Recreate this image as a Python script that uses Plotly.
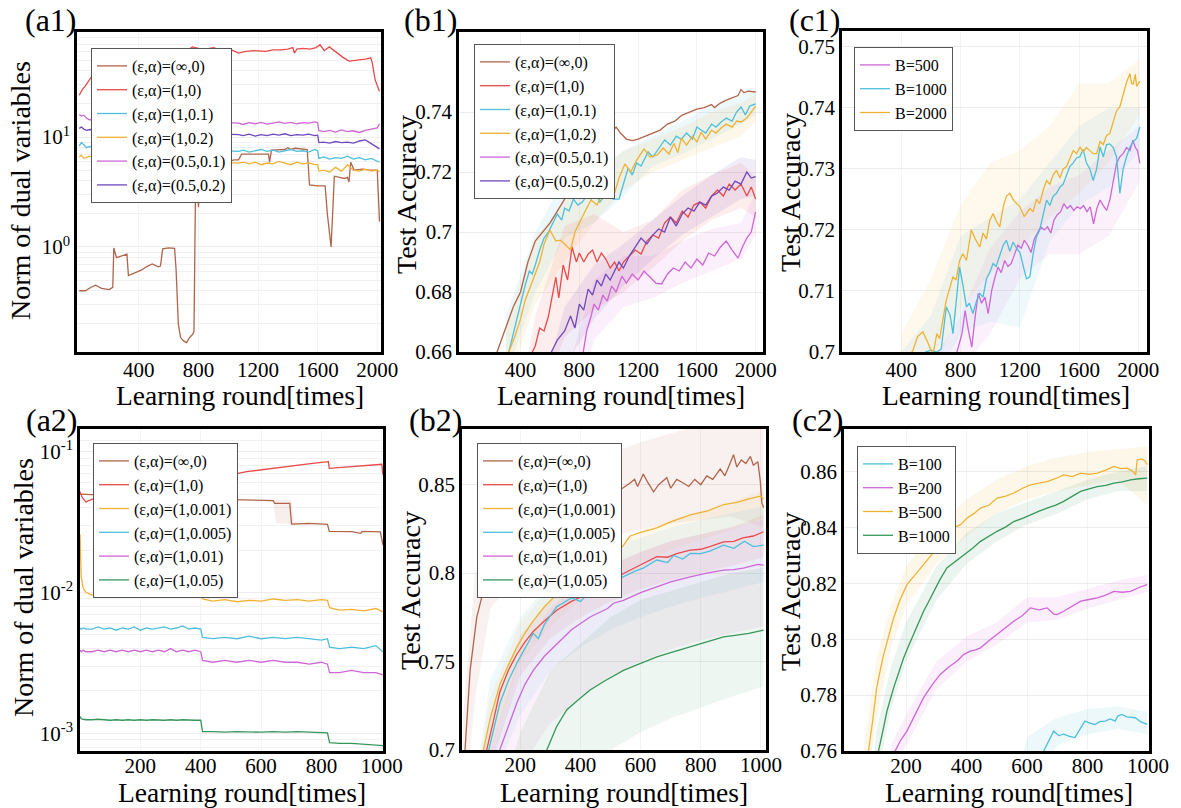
import plotly.graph_objects as go

W, H = 1181, 808
FONT = "Liberation Serif"

# ---------------- colours ----------------
BROWN = "#b0654b"
RED = "#e84a4a"
CYAN = "#4dbfdc"
ORANGE = "#f0b232"
MAGENTA = "#cf66d6"
PURPLE = "#7047bf"
GREEN = "#37975a"

# ---------------- (a1) ----------------
A1_BRO_X = [0, 40, 80, 110, 150, 200, 225, 232, 250, 290, 320, 330, 370, 420, 450, 490, 530, 545, 560, 600,
            640, 650, 665, 680, 700, 720, 740, 760, 770, 780, 795, 800, 810, 900, 1000, 1040, 1069, 1090, 1200, 1270,
            1277, 1290, 1380, 1400, 1420, 1450, 1530, 1545, 1600, 1650, 1665, 1690, 1712, 1780, 1800, 1810, 1822, 1844, 1900, 1950,
            2000, 2015]
A1_BRO_Y = [0.40, 0.40, 0.43, 0.45, 0.42, 0.41, 0.43, 0.98, 0.80, 0.84, 0.86, 0.55, 0.58, 0.62, 0.66, 0.70, 0.66, 0.67, 0.96, 0.98,
            0.97, 0.62, 0.20, 0.15, 0.14, 0.135, 0.15, 0.16, 0.17, 3.1, 3.4, 2.3, 4.5, 5.5, 6.0, 6.2, 6.2, 7.0, 7.0, 7.0,
            5.9, 7.6, 7.7, 8.0, 7.7, 7.9, 7.7, 3.66, 3.6, 3.6, 2.0, 1.0, 4.4, 4.2, 4.3, 3.9, 5.9, 5.0, 5.1, 5.0,
            5.0, 1.7]
A1_RED_X = [0, 20, 40, 60, 80, 100, 200, 400, 600, 730, 760, 800, 850, 900, 950, 1000, 1040, 1069, 1120, 1173,
            1250, 1300, 1350, 1400, 1433, 1444, 1460, 1500, 1550, 1589, 1616, 1644, 1678, 1722, 1770, 1811, 1878, 1920, 1956, 1967,
            1986, 2015]
A1_RED_Y = [24, 27, 29, 32, 35, 36, 40, 48, 55, 62, 66, 64, 63, 65, 62, 64, 60, 58, 60, 61,
            60, 62, 62, 63, 65, 58, 63, 64, 63, 65, 69, 61, 66, 59, 53, 49, 50, 51, 52.5, 47,
            33, 26]
A1_STEP_X = [0, 15, 30, 50, 70, 90, 400, 800, 1069, 1100, 1140, 1180, 1220, 1260, 1300, 1340, 1380, 1420, 1460, 1500,
             1540, 1580, 1600, 1608, 1640, 1680, 1720, 1760, 1800, 1840, 1880, 1920, 1960, 2000, 2015]
A1_MAG_Y = [16, 15.5, 15.8, 14.8, 14.3, 14.6, 14.2, 13.9, 13.4, 13.0, 13.5, 13.2, 13.6, 13.1, 13.4, 13.7, 13.3, 13.6, 13.2, 13.5,
            13.4, 13.7, 13.5, 11.4, 11.2, 11.5, 11.1, 11.6, 11.2, 11.4, 11.0, 11.5, 11.8, 12.1, 13.2]
A1_PUR_Y = [12.0, 12.3, 11.8, 11.5, 11.7, 11.6, 11.2, 10.9, 10.5, 10.3, 10.6, 10.2, 10.5, 10.3, 10.6, 10.4, 10.7, 10.3, 10.5, 10.4,
            10.6, 10.3, 10.4, 8.9, 9.0, 8.8, 9.1, 8.9, 9.0, 8.8, 9.2, 9.4, 8.7, 8.0, 7.8]
A1_CYA_Y = [8.3, 8.9, 8.5, 8.0, 8.2, 8.1, 7.9, 7.7, 7.4, 7.6, 7.3, 7.5, 7.7, 7.4, 7.6, 7.3, 7.5, 7.7, 7.4, 7.5,
            7.3, 7.7, 7.5, 6.4, 6.6, 6.3, 6.5, 6.4, 6.7, 6.3, 6.5, 6.2, 6.4, 6.0, 5.9]
A1_ORA_Y = [6.6, 6.8, 6.4, 6.5, 6.7, 6.6, 6.3, 6.0, 5.8, 5.9, 5.7, 5.9, 5.6, 5.8, 5.7, 6.0, 5.8, 5.6, 5.9, 5.7,
            5.8, 5.6, 5.6, 4.9, 5.0, 4.8, 5.3, 4.9, 5.6, 5.0, 4.9, 5.1, 4.9, 5.0, 4.8]

# ---------------- (b1) ----------------
B1_BRO_X = [0, 100, 200, 240, 300, 350, 400, 450, 500, 550, 600, 650, 700, 750, 800, 850, 900, 950, 1000, 1050,
            1080, 1120, 1160, 1200, 1250, 1300, 1350, 1400, 1450, 1500, 1550, 1600, 1650, 1700, 1720, 1760, 1800, 1850, 1880, 1900,
            1920, 1950, 2000]
B1_BRO_Y = [0.60, 0.625, 0.648, 0.66, 0.668, 0.675, 0.680, 0.690, 0.697, 0.700, 0.703, 0.707, 0.711, 0.715, 0.719, 0.723, 0.727, 0.730, 0.732, 0.735,
            0.733, 0.731, 0.7305, 0.731, 0.732, 0.733, 0.734, 0.736, 0.737, 0.739, 0.740, 0.741, 0.7415, 0.7425, 0.7415, 0.743, 0.744, 0.745, 0.7455, 0.7475,
            0.7465, 0.747, 0.7467]
B1_CYA_X = [280, 320, 350, 380, 400, 430, 460, 480, 500, 530, 560, 590, 620, 650, 680, 700, 730, 760, 790, 820,
            850, 880, 910, 940, 970, 1000, 1030, 1070, 1100, 1132, 1160, 1190, 1220, 1268, 1300, 1340, 1381, 1420, 1460, 1494,
            1530, 1570, 1600, 1629, 1660, 1700, 1730, 1765, 1800, 1840, 1870, 1901, 1930, 1960, 2000]
B1_CYA_Y = [0.652, 0.660, 0.667, 0.672, 0.677, 0.682, 0.687, 0.686, 0.689, 0.694, 0.698, 0.700, 0.703, 0.706, 0.704, 0.708, 0.707, 0.711, 0.709, 0.710,
            0.712, 0.711, 0.713, 0.710, 0.712, 0.713, 0.711, 0.711, 0.716, 0.7213, 0.719, 0.723, 0.722, 0.7267, 0.725, 0.728, 0.7307, 0.729, 0.732, 0.731,
            0.733, 0.731, 0.735, 0.734, 0.733, 0.736, 0.735, 0.7367, 0.738, 0.737, 0.740, 0.7417, 0.739, 0.742, 0.7427]
B1_ORA_X = [270, 320, 360, 398, 430, 460, 500, 530, 560, 600, 640, 670, 700, 740, 770, 810, 840, 880, 920, 960,
            1000, 1040, 1070, 1110, 1150, 1190, 1241, 1280, 1331, 1370, 1410, 1444, 1470, 1494, 1530, 1570, 1600, 1629, 1660, 1700,
            1730, 1765, 1800, 1840, 1870, 1901, 1940, 1970, 2000]
B1_ORA_Y = [0.652, 0.660, 0.665, 0.6707, 0.677, 0.681, 0.6862, 0.690, 0.696, 0.7007, 0.697, 0.6973, 0.696, 0.694, 0.700, 0.7043, 0.707, 0.7107, 0.709, 0.713,
            0.7153, 0.713, 0.718, 0.7227, 0.720, 0.724, 0.7277, 0.725, 0.7257, 0.728, 0.726, 0.7295, 0.7265, 0.7313, 0.729, 0.732, 0.730, 0.7333, 0.731, 0.734,
            0.733, 0.7347, 0.736, 0.735, 0.737, 0.7367, 0.738, 0.740, 0.742]
B1_RED_X = [430, 477, 500, 530, 560, 590, 620, 640, 660, 690, 720, 750, 780, 800, 830, 861, 890, 920, 950, 980,
            1010, 1040, 1070, 1100, 1140, 1180, 1220, 1260, 1300, 1340, 1380, 1420, 1460, 1500, 1540, 1580, 1620, 1660, 1700, 1740,
            1780, 1820, 1860, 1900, 1940, 1970, 2000]
B1_RED_Y = [0.655, 0.660, 0.662, 0.668, 0.667, 0.672, 0.680, 0.685, 0.678, 0.689, 0.684, 0.695, 0.690, 0.693, 0.690, 0.6927, 0.694, 0.690, 0.693, 0.691,
            0.688, 0.690, 0.687, 0.690, 0.692, 0.694, 0.6927, 0.697, 0.699, 0.698, 0.703, 0.705, 0.703, 0.707, 0.705, 0.709, 0.710, 0.708, 0.712, 0.714,
            0.712, 0.716, 0.714, 0.716, 0.712, 0.715, 0.711]
B1_PUR_X = [560, 612, 650, 700, 740, 770, 800, 830, 860, 890, 920, 950, 980, 1010, 1040, 1070, 1100, 1140, 1180, 1220,
            1260, 1300, 1340, 1380, 1420, 1460, 1500, 1540, 1580, 1620, 1660, 1700, 1740, 1780, 1820, 1860, 1900, 1940, 1970, 2000]
B1_PUR_Y = [0.655, 0.660, 0.664, 0.667, 0.672, 0.668, 0.676, 0.674, 0.681, 0.679, 0.684, 0.682, 0.686, 0.684, 0.687, 0.690, 0.688, 0.692, 0.695, 0.698,
            0.696, 0.699, 0.701, 0.700, 0.705, 0.702, 0.706, 0.708, 0.707, 0.710, 0.709, 0.712, 0.713, 0.715, 0.714, 0.717, 0.716, 0.720, 0.718, 0.7185]
B1_MAG_X = [800, 827, 850, 880, 900, 930, 960, 990, 1020, 1050, 1090, 1120, 1160, 1200, 1240, 1280, 1320, 1360, 1400, 1440,
            1480, 1520, 1560, 1600, 1640, 1680, 1720, 1760, 1800, 1840, 1880, 1910, 1940, 1970, 2000]
B1_MAG_Y = [0.652, 0.660, 0.667, 0.672, 0.676, 0.674, 0.679, 0.677, 0.682, 0.680, 0.6853, 0.683, 0.686, 0.684, 0.687, 0.685, 0.683, 0.6827, 0.686, 0.688,
            0.687, 0.690, 0.688, 0.691, 0.689, 0.693, 0.692, 0.695, 0.697, 0.694, 0.6913, 0.695, 0.698, 0.700, 0.7067]
B1_BAND_X = [300, 500, 700, 900, 1100, 1300, 1500, 1700, 1900, 2000]
B1_CYA_LO = [0.652, 0.680, 0.698, 0.703, 0.712, 0.722, 0.726, 0.731, 0.736, 0.739]
B1_CYA_HI = [0.672, 0.700, 0.718, 0.720, 0.727, 0.732, 0.737, 0.742, 0.746, 0.747]
B1_ORA_LO = [0.648, 0.676, 0.690, 0.703, 0.714, 0.720, 0.724, 0.728, 0.732, 0.737]
B1_ORA_HI = [0.668, 0.698, 0.710, 0.718, 0.727, 0.731, 0.735, 0.740, 0.743, 0.746]
B1_RED_LO = [0.600, 0.640, 0.665, 0.674, 0.680, 0.688, 0.697, 0.704, 0.708, 0.705]
B1_RED_HI = [0.620, 0.672, 0.702, 0.706, 0.700, 0.704, 0.714, 0.719, 0.723, 0.718]
B1_PUR_LO = [0.580, 0.620, 0.655, 0.671, 0.682, 0.691, 0.699, 0.705, 0.711, 0.712]
B1_PUR_HI = [0.600, 0.640, 0.675, 0.689, 0.696, 0.704, 0.712, 0.719, 0.725, 0.724]
B1_MAG_LO = [0.560, 0.600, 0.630, 0.664, 0.675, 0.678, 0.683, 0.687, 0.691, 0.699]
B1_MAG_HI = [0.580, 0.620, 0.650, 0.684, 0.692, 0.692, 0.697, 0.701, 0.703, 0.713]

# ---------------- (c1) ----------------
C1_ORA_X = [400, 479, 510, 546, 580, 614, 640, 659, 704, 730, 749, 770, 794, 816, 840, 873, 900, 930, 952, 975,
            997, 1020, 1040, 1065, 1090, 1110, 1133, 1160, 1201, 1230, 1245, 1268, 1290, 1313, 1335, 1358, 1381, 1403, 1425, 1448,
            1471, 1493, 1516, 1538, 1561, 1584, 1606, 1628, 1650, 1673, 1696, 1719, 1742, 1764, 1786, 1808, 1831, 1853, 1876, 1898,
            1921, 1944, 1955, 1966, 1980, 1989, 2011]
C1_ORA_Y = [0.697, 0.7003, 0.7025, 0.7033, 0.7015, 0.6995, 0.703, 0.7022, 0.7085, 0.7105, 0.7123, 0.7118, 0.7150, 0.7161, 0.7150, 0.720, 0.7185, 0.7172, 0.7195, 0.7185,
            0.7215, 0.7227, 0.7215, 0.7205, 0.7240, 0.7255, 0.726, 0.7248, 0.7238, 0.7222, 0.7228, 0.7235, 0.7230, 0.7250, 0.7243, 0.7265, 0.7281, 0.7275, 0.729, 0.7298,
            0.7285, 0.7300, 0.7304, 0.7318, 0.7330, 0.7325, 0.7336, 0.7328, 0.7335, 0.7330, 0.7325, 0.7325, 0.7345, 0.7340, 0.7355, 0.7358, 0.7375, 0.7395, 0.7402, 0.7420,
            0.7442, 0.7456, 0.7440, 0.7439, 0.7455, 0.7435, 0.7444]
C1_CYA_X = [520, 564, 600, 640, 670, 704, 730, 749, 770, 794, 816, 840, 860, 884, 910, 930, 952, 975, 997, 1020,
            1040, 1065, 1088, 1110, 1133, 1155, 1178, 1201, 1223, 1245, 1268, 1290, 1313, 1335, 1358, 1381, 1403, 1425, 1448, 1471,
            1493, 1516, 1538, 1561, 1584, 1606, 1628, 1650, 1673, 1696, 1719, 1742, 1764, 1786, 1808, 1831, 1853, 1876, 1898, 1921,
            1944, 1966, 1989, 2011]
C1_CYA_Y = [0.697, 0.700, 0.7003, 0.700, 0.7005, 0.7074, 0.706, 0.703, 0.708, 0.7139, 0.7110, 0.7074, 0.7080, 0.7063, 0.7085, 0.7096, 0.7090, 0.7120, 0.7130, 0.7145,
            0.7140, 0.7160, 0.7175, 0.7183, 0.7165, 0.7180, 0.7170, 0.7163, 0.7140, 0.7120, 0.7123, 0.7160, 0.7189, 0.7200, 0.7225, 0.7249, 0.7240, 0.7255, 0.7260, 0.7270,
            0.7275, 0.7290, 0.7304, 0.7310, 0.7318, 0.7320, 0.7332, 0.7310, 0.7300, 0.7281, 0.7300, 0.7336, 0.7320, 0.7340, 0.7341, 0.7335, 0.7320, 0.7260, 0.7300, 0.7320,
            0.7336, 0.7345, 0.7350, 0.7369]
C1_MAG_X = [760, 776, 810, 831, 850, 876, 900, 920, 942, 965, 987, 1010, 1030, 1053, 1075, 1098, 1120, 1142, 1165, 1187,
            1210, 1231, 1254, 1276, 1298, 1320, 1342, 1365, 1387, 1410, 1431, 1453, 1476, 1498, 1520, 1542, 1565, 1587, 1609, 1631,
            1654, 1676, 1698, 1720, 1742, 1764, 1787, 1809, 1831, 1853, 1876, 1898, 1921, 1944, 1964, 1980, 1995, 2011]
C1_MAG_Y = [0.697, 0.700, 0.7030, 0.7068, 0.7040, 0.7008, 0.7060, 0.7096, 0.7080, 0.7090, 0.7063, 0.7100, 0.7120, 0.7139, 0.7130, 0.7150, 0.7140, 0.7145, 0.7160, 0.7175,
            0.7170, 0.7183, 0.7175, 0.7163, 0.7185, 0.7195, 0.7205, 0.7200, 0.7205, 0.7195, 0.7216, 0.7225, 0.7230, 0.7243, 0.7235, 0.7240, 0.7232, 0.7238, 0.7235, 0.7240,
            0.7230, 0.7238, 0.7210, 0.7235, 0.7249, 0.7240, 0.7232, 0.7250, 0.7280, 0.7309, 0.7320, 0.7325, 0.7335, 0.7330, 0.7347, 0.7335, 0.7330, 0.7309]
C1_BAND_X = [400, 600, 800, 1000, 1200, 1400, 1600, 1800, 2011]
C1_ORA_LO = [0.694, 0.696, 0.707, 0.713, 0.717, 0.722, 0.726, 0.731, 0.739]
C1_ORA_HI = [0.703, 0.712, 0.724, 0.731, 0.733, 0.737, 0.744, 0.744, 0.748]
C1_CYA_LO = [0.690, 0.694, 0.703, 0.705, 0.704, 0.718, 0.724, 0.727, 0.733]
C1_CYA_HI = [0.700, 0.706, 0.719, 0.722, 0.725, 0.731, 0.737, 0.740, 0.740]
C1_MAG_LO = [0.690, 0.690, 0.697, 0.703, 0.712, 0.716, 0.716, 0.719, 0.728]
C1_MAG_HI = [0.695, 0.698, 0.706, 0.717, 0.723, 0.727, 0.729, 0.733, 0.737]

# ---------------- (a2) ----------------
A2_RED_X = [0, 8, 20, 40, 60, 80, 110, 200, 300, 402, 405, 552, 600, 650, 700, 750, 800, 823, 826, 880, 940, 1000, 1004]
A2_RED_Y = [0.052, 0.047, 0.044, 0.046, 0.045, 0.047, 0.049, 0.053, 0.058, 0.066, 0.062, 0.0721, 0.0745, 0.077, 0.079, 0.0815,
            0.084, 0.0849, 0.0762, 0.0775, 0.079, 0.0814, 0.068]
A2_BRO_X = [0, 100, 300, 402, 405, 552, 600, 640, 645, 695, 701, 760, 820, 826, 900, 930, 935, 995, 1004]
A2_BRO_Y = [0.050, 0.049, 0.048, 0.047, 0.046, 0.0454, 0.0452, 0.045, 0.043, 0.043, 0.0306, 0.031, 0.0305, 0.0272, 0.0271,
            0.0263, 0.0272, 0.027, 0.0218]
A2_STEP_X = [0, 4, 10, 20, 40, 60, 80, 100, 120, 140, 160, 180, 200, 220, 240, 260, 280, 300, 320, 340,
             360, 380, 400, 406, 440, 480, 520, 560, 600, 640, 680, 720, 760, 800, 820, 827, 860, 900, 940, 980, 1004]
A2_ORA_Y = [0.026, 0.013, 0.0108, 0.0100, 0.0096, 0.0098, 0.0094, 0.0099, 0.0101, 0.0097, 0.0100, 0.0098, 0.0102, 0.0096, 0.0093, 0.0100, 0.0098, 0.0101, 0.0097, 0.0100,
            0.0099, 0.0096, 0.0098, 0.0090, 0.0087, 0.0089, 0.0086, 0.0088, 0.0087, 0.0090, 0.0088, 0.0089, 0.0087, 0.0089, 0.0088, 0.0078, 0.0075, 0.0076, 0.0074, 0.0077, 0.0073]
A2_CYA_Y = [0.0056, 0.0055, 0.0056, 0.0055, 0.0055, 0.0057, 0.0055, 0.0056, 0.0054, 0.0056, 0.0055, 0.0057, 0.0054, 0.0056, 0.0055, 0.0056, 0.0057, 0.0055, 0.0056, 0.0058,
            0.0055, 0.0056, 0.0055, 0.0048, 0.0047, 0.0048, 0.0047, 0.0049, 0.0047, 0.0048, 0.0047, 0.0048, 0.0047, 0.0046, 0.0047, 0.0041, 0.0040, 0.0041, 0.0040, 0.0042, 0.0038]
A2_MAG_Y = [0.0039, 0.0038, 0.0039, 0.0038, 0.0038, 0.0039, 0.0038, 0.0039, 0.0038, 0.0039, 0.0038, 0.0039, 0.0038, 0.0039, 0.0038, 0.0039, 0.0038, 0.0040, 0.0038, 0.0039,
            0.0038, 0.0039, 0.0038, 0.0033, 0.0032, 0.0033, 0.0032, 0.0033, 0.0032, 0.0033, 0.0032, 0.0032, 0.0031, 0.0032, 0.0031, 0.0027, 0.0027, 0.0028, 0.0027, 0.0027, 0.0026]
A2_GRN_Y = [0.00132, 0.00127, 0.00126, 0.00125, 0.00125, 0.00126, 0.00125, 0.00124, 0.00125, 0.00124, 0.00125, 0.00124, 0.00125, 0.00124, 0.00125, 0.00124, 0.00124, 0.00125, 0.00124, 0.00125,
            0.00124, 0.00124, 0.00124, 0.00103, 0.00103, 0.00102, 0.00103, 0.00102, 0.00102, 0.00103, 0.00102, 0.00103, 0.00102, 0.00102, 0.00101, 0.00086, 0.00085, 0.00085, 0.00084, 0.00083, 0.00082]
A2_BAND_X = [600, 640, 650, 700, 710, 760]
A2_BRO_LO = [0.0448, 0.0440, 0.0310, 0.0305, 0.0300, 0.0302]
A2_BRO_HI = [0.0458, 0.0458, 0.0456, 0.0452, 0.0318, 0.0312]

# ---------------- (b2) ----------------
B2_BRO_X = [1, 10, 16, 33, 55, 77, 100, 150, 200, 250, 300, 350, 400, 450, 500, 540, 565, 580, 590, 609,
            625, 643, 660, 687, 700, 720, 742, 760, 780, 800, 820, 840, 865, 880, 895, 909, 920, 935, 950, 965,
            975, 990, 998, 1003, 1009]
B2_BRO_Y = [0.64, 0.68, 0.70, 0.745, 0.775, 0.790, 0.80, 0.813, 0.822, 0.828, 0.833, 0.837, 0.840, 0.843, 0.846, 0.848, 0.851, 0.853, 0.849, 0.856,
            0.851, 0.846, 0.850, 0.854, 0.848, 0.853, 0.851, 0.849, 0.853, 0.850, 0.855, 0.853, 0.859, 0.855, 0.861, 0.867, 0.860, 0.864, 0.862, 0.866,
            0.861, 0.863, 0.852, 0.840, 0.837]
B2_ORA_X = [60, 77, 100, 132, 160, 188, 215, 243, 280, 321, 360, 400, 450, 500, 540, 565, 600, 654, 700, 765, 820, 876, 920, 960, 998, 1009]
B2_ORA_Y = [0.68, 0.70, 0.718, 0.737, 0.748, 0.758, 0.766, 0.773, 0.781, 0.788, 0.794, 0.80, 0.806, 0.811, 0.815, 0.821, 0.823, 0.8256, 0.829, 0.833,
            0.835, 0.8388, 0.840, 0.842, 0.8435, 0.842]
B2_RED_X = [70, 88, 110, 132, 160, 188, 215, 243, 280, 321, 370, 432, 480, 543, 580, 620, 654, 690, 720, 765, 800, 830, 876, 910, 940, 975, 1009]
B2_RED_Y = [0.68, 0.70, 0.716, 0.733, 0.745, 0.754, 0.761, 0.767, 0.773, 0.779, 0.784, 0.789, 0.793, 0.7998, 0.803, 0.806, 0.8093, 0.809, 0.811, 0.813,
            0.8135, 0.815, 0.8177, 0.818, 0.820, 0.821, 0.8234]
B2_CYA_X = [75, 95, 132, 160, 188, 215, 243, 260, 280, 321, 370, 400, 432, 480, 520, 543, 580, 610, 654, 690, 710, 740, 765, 800, 830, 876, 910, 945, 975, 1009]
B2_CYA_Y = [0.68, 0.70, 0.7264, 0.739, 0.749, 0.757, 0.766, 0.763, 0.771, 0.781, 0.786, 0.784, 0.7894, 0.792, 0.796, 0.798, 0.801, 0.803, 0.8074, 0.806,
            0.810, 0.808, 0.8111, 0.811, 0.8125, 0.8158, 0.814, 0.818, 0.815, 0.8158]
B2_MAG_X = [110, 132, 188, 215, 243, 280, 321, 370, 432, 490, 510, 543, 600, 654, 700, 765, 820, 876, 910, 945, 975, 990, 1009]
B2_MAG_Y = [0.69, 0.70, 0.7264, 0.737, 0.745, 0.753, 0.7601, 0.768, 0.7752, 0.780, 0.783, 0.7846, 0.789, 0.7922, 0.795, 0.7979, 0.800, 0.8017, 0.802, 0.803,
            0.8045, 0.805, 0.8045]
B2_GRN_X = [250, 288, 320, 354, 390, 432, 480, 543, 600, 654, 700, 765, 820, 876, 920, 960, 1009]
B2_GRN_Y = [0.69, 0.70, 0.713, 0.7226, 0.728, 0.7339, 0.739, 0.745, 0.749, 0.7527, 0.755, 0.7584, 0.761, 0.764, 0.765, 0.766, 0.7678]
B2_BAND_X = [10, 50, 100, 200, 300, 400, 500, 600, 700, 800, 900, 1009]
B2_BRO_LO = [0.660, 0.730, 0.780, 0.800, 0.810, 0.815, 0.820, 0.825, 0.828, 0.830, 0.832, 0.826]
B2_BRO_HI = [0.720, 0.800, 0.820, 0.842, 0.852, 0.860, 0.868, 0.874, 0.879, 0.884, 0.889, 0.890]
B2_RED_LO = [0.600, 0.640, 0.690, 0.742, 0.763, 0.775, 0.784, 0.791, 0.796, 0.800, 0.804, 0.809]
B2_RED_HI = [0.620, 0.670, 0.720, 0.765, 0.785, 0.796, 0.804, 0.812, 0.818, 0.822, 0.826, 0.833]
B2_ORA_LO = [0.600, 0.650, 0.700, 0.750, 0.770, 0.785, 0.796, 0.806, 0.813, 0.819, 0.824, 0.831]
B2_ORA_HI = [0.630, 0.680, 0.730, 0.772, 0.792, 0.806, 0.816, 0.824, 0.830, 0.835, 0.840, 0.847]
B2_CYA_LO = [0.600, 0.630, 0.680, 0.720, 0.745, 0.758, 0.768, 0.775, 0.781, 0.786, 0.790, 0.795]
B2_CYA_HI = [0.630, 0.680, 0.740, 0.775, 0.795, 0.806, 0.814, 0.820, 0.826, 0.830, 0.834, 0.838]
B2_MAG_LO = [0.550, 0.600, 0.640, 0.690, 0.715, 0.730, 0.742, 0.750, 0.757, 0.762, 0.766, 0.770]
B2_MAG_HI = [0.600, 0.650, 0.700, 0.755, 0.780, 0.795, 0.805, 0.812, 0.818, 0.822, 0.826, 0.830]
B2_GRN_LO = [0.500, 0.550, 0.600, 0.650, 0.675, 0.690, 0.700, 0.710, 0.718, 0.724, 0.730, 0.736]
B2_GRN_HI = [0.550, 0.600, 0.650, 0.710, 0.745, 0.760, 0.775, 0.785, 0.790, 0.795, 0.800, 0.803]

# ---------------- (c2) ----------------
C2_ORA_X = [60, 76, 90, 103, 115, 126, 140, 159, 180, 203, 230, 258, 285, 313, 335, 357, 380, 402, 425, 446,
            475, 501, 530, 556, 585, 611, 640, 666, 695, 721, 750, 777, 805, 832, 860, 887, 910, 931, 950, 959,
            964, 980, 990, 997]
C2_ORA_Y = [0.750, 0.760, 0.771, 0.7826, 0.789, 0.7945, 0.800, 0.8076, 0.8140, 0.8195, 0.823, 0.8267, 0.830, 0.8338, 0.8370, 0.8398, 0.8410, 0.8434, 0.8450, 0.8469,
            0.8480, 0.8505, 0.8512, 0.8523, 0.8540, 0.8552, 0.8558, 0.8564, 0.8575, 0.8588, 0.8582, 0.8594, 0.8590, 0.8594, 0.8605, 0.8618, 0.8610, 0.8612, 0.8600, 0.8588,
            0.8642, 0.8645, 0.8638, 0.8624]
C2_GRN_X = [95, 109, 125, 137, 159, 175, 192, 210, 225, 240, 258, 275, 291, 313, 335, 360, 390, 420, 446, 475,
            501, 530, 556, 585, 611, 640, 666, 695, 721, 750, 777, 805, 832, 860, 887, 915, 942, 970, 997]
C2_GRN_Y = [0.750, 0.760, 0.768, 0.7743, 0.7826, 0.788, 0.7933, 0.798, 0.8017, 0.806, 0.810, 0.8135, 0.8171, 0.8215, 0.8255, 0.8275, 0.8302, 0.8325, 0.835, 0.8370,
            0.8386, 0.8402, 0.8421, 0.8432, 0.8445, 0.8458, 0.8469, 0.8480, 0.8493, 0.8512, 0.8529, 0.8538, 0.8546, 0.8550, 0.8558, 0.8563, 0.857, 0.8574, 0.8576]
C2_MAG_X = [150, 164, 183, 203, 230, 258, 285, 313, 340, 368, 390, 412, 430, 446, 475, 501, 530, 556, 585, 611,
            640, 666, 688, 699, 721, 750, 777, 805, 832, 860, 887, 915, 942, 970, 997]
C2_MAG_Y = [0.755, 0.760, 0.764, 0.7671, 0.773, 0.7791, 0.7835, 0.7874, 0.790, 0.7921, 0.7945, 0.7957, 0.7962, 0.7969, 0.7995, 0.8017, 0.8040, 0.8064, 0.8085, 0.8112,
            0.8105, 0.8112, 0.8090, 0.8088, 0.8100, 0.8118, 0.8136, 0.8142, 0.8148, 0.8158, 0.8171, 0.8168, 0.8171, 0.8185, 0.8195]
C2_CYA_X = [600, 655, 688, 705, 721, 740, 758, 775, 791, 808, 824, 840, 858, 875, 891, 900, 913, 930, 958, 975, 997]
C2_CYA_Y = [0.755, 0.760, 0.7671, 0.7655, 0.766, 0.7652, 0.7648, 0.7680, 0.7707, 0.7700, 0.7695, 0.7705, 0.7707, 0.7715, 0.7707, 0.7725, 0.7731, 0.7722, 0.7719, 0.7705, 0.7695]
C2_BAND_X = [60, 100, 150, 200, 300, 400, 500, 600, 700, 800, 900, 997]
C2_ORA_LO = [0.740, 0.770, 0.797, 0.812, 0.827, 0.837, 0.845, 0.850, 0.853, 0.855, 0.857, 0.848]
C2_ORA_HI = [0.760, 0.792, 0.812, 0.826, 0.840, 0.850, 0.857, 0.862, 0.865, 0.867, 0.868, 0.869]
C2_GRN_LO = [0.700, 0.748, 0.775, 0.792, 0.814, 0.827, 0.835, 0.841, 0.845, 0.850, 0.853, 0.853]
C2_GRN_HI = [0.710, 0.766, 0.790, 0.806, 0.826, 0.838, 0.845, 0.849, 0.853, 0.857, 0.860, 0.862]
C2_MAG_LO = [0.700, 0.700, 0.752, 0.762, 0.782, 0.792, 0.798, 0.806, 0.807, 0.811, 0.814, 0.817]
C2_MAG_HI = [0.700, 0.710, 0.762, 0.773, 0.792, 0.801, 0.806, 0.815, 0.815, 0.818, 0.821, 0.823]
C2_CYA_LO = [0.700, 0.700, 0.700, 0.700, 0.700, 0.700, 0.700, 0.745, 0.762, 0.766, 0.768, 0.766]
C2_CYA_HI = [0.700, 0.700, 0.700, 0.700, 0.700, 0.700, 0.720, 0.765, 0.772, 0.775, 0.776, 0.774]

# ---------------- labels ----------------
LAB_A1 = ["(ε,α)=(∞,0)", "(ε,α)=(1,0)", "(ε,α)=(1,0.1)", "(ε,α)=(1,0.2)", "(ε,α)=(0.5,0.1)", "(ε,α)=(0.5,0.2)"]
LAB_A2 = ["(ε,α)=(∞,0)", "(ε,α)=(1,0)", "(ε,α)=(1,0.001)", "(ε,α)=(1,0.005)", "(ε,α)=(1,0.01)", "(ε,α)=(1,0.05)"]
LAB_C1 = ["B=500", "B=1000", "B=2000"]
LAB_C2 = ["B=100", "B=200", "B=500", "B=1000"]
XT_TOP = [400, 800, 1200, 1600, 2000]
XT_BOT = [200, 400, 600, 800, 1000]

# ---------------- build ----------------
fig = go.Figure()


def sid(i):
    return "" if i == 1 else str(i)


def rgba(hexc, a):
    h = hexc.lstrip("#")
    return "rgba(%d,%d,%d,%s)" % (int(h[0:2], 16), int(h[2:4], 16), int(h[4:6], 16), a)


def band(i, bx, lo, hi, color, a=0.10):
    assert len(bx) == len(lo) == len(hi)
    fig.add_trace(go.Scatter(x=list(bx) + list(bx)[::-1], y=list(hi) + list(lo)[::-1], mode="lines",
                             fill="toself", fillcolor=rgba(color, a), line=dict(width=0, color="rgba(0,0,0,0)"),
                             hoverinfo="skip", showlegend=False, xaxis="x" + sid(i), yaxis="y" + sid(i)))


def line(i, x, y, color, name):
    assert len(x) == len(y), name
    fig.add_trace(go.Scatter(x=x, y=y, mode="lines", name=name, line=dict(color=color, width=1.3),
                             xaxis="x" + sid(i), yaxis="y" + sid(i),
                             legend="legend" if i == 1 else "legend%d" % i))


# bands first
band(2, B1_BAND_X, B1_CYA_LO, B1_CYA_HI, CYAN)
band(2, B1_BAND_X, B1_ORA_LO, B1_ORA_HI, ORANGE)
band(2, B1_BAND_X, B1_RED_LO, B1_RED_HI, RED)
band(2, B1_BAND_X, B1_PUR_LO, B1_PUR_HI, PURPLE)
band(2, B1_BAND_X, B1_MAG_LO, B1_MAG_HI, MAGENTA)
band(3, C1_BAND_X, C1_ORA_LO, C1_ORA_HI, ORANGE, 0.09)
band(3, C1_BAND_X, C1_CYA_LO, C1_CYA_HI, CYAN, 0.09)
band(3, C1_BAND_X, C1_MAG_LO, C1_MAG_HI, MAGENTA, 0.09)
band(4, A2_BAND_X, A2_BRO_LO, A2_BRO_HI, BROWN)
band(5, B2_BAND_X, B2_BRO_LO, B2_BRO_HI, BROWN, 0.09)
band(5, B2_BAND_X, B2_ORA_LO, B2_ORA_HI, ORANGE, 0.09)
band(5, B2_BAND_X, B2_RED_LO, B2_RED_HI, RED, 0.09)
band(5, B2_BAND_X, B2_CYA_LO, B2_CYA_HI, CYAN, 0.09)
band(5, B2_BAND_X, B2_MAG_LO, B2_MAG_HI, MAGENTA, 0.09)
band(5, B2_BAND_X, B2_GRN_LO, B2_GRN_HI, GREEN, 0.09)
band(6, C2_BAND_X, C2_ORA_LO, C2_ORA_HI, ORANGE)
band(6, C2_BAND_X, C2_GRN_LO, C2_GRN_HI, GREEN)
band(6, C2_BAND_X, C2_MAG_LO, C2_MAG_HI, MAGENTA)
band(6, C2_BAND_X, C2_CYA_LO, C2_CYA_HI, CYAN)

# (a1)
line(1, A1_BRO_X, A1_BRO_Y, BROWN, LAB_A1[0])
line(1, A1_RED_X, A1_RED_Y, RED, LAB_A1[1])
line(1, A1_STEP_X, A1_CYA_Y, CYAN, LAB_A1[2])
line(1, A1_STEP_X, A1_ORA_Y, ORANGE, LAB_A1[3])
line(1, A1_STEP_X, A1_MAG_Y, MAGENTA, LAB_A1[4])
line(1, A1_STEP_X, A1_PUR_Y, PURPLE, LAB_A1[5])
# (b1)
line(2, B1_BRO_X, B1_BRO_Y, BROWN, LAB_A1[0])
line(2, B1_RED_X, B1_RED_Y, RED, LAB_A1[1])
line(2, B1_CYA_X, B1_CYA_Y, CYAN, LAB_A1[2])
line(2, B1_ORA_X, B1_ORA_Y, ORANGE, LAB_A1[3])
line(2, B1_MAG_X, B1_MAG_Y, MAGENTA, LAB_A1[4])
line(2, B1_PUR_X, B1_PUR_Y, PURPLE, LAB_A1[5])
# (c1)
line(3, C1_MAG_X, C1_MAG_Y, MAGENTA, LAB_C1[0])
line(3, C1_CYA_X, C1_CYA_Y, CYAN, LAB_C1[1])
line(3, C1_ORA_X, C1_ORA_Y, ORANGE, LAB_C1[2])
# (a2)
line(4, A2_BRO_X, A2_BRO_Y, BROWN, LAB_A2[0])
line(4, A2_RED_X, A2_RED_Y, RED, LAB_A2[1])
line(4, A2_STEP_X, A2_ORA_Y, ORANGE, LAB_A2[2])
line(4, A2_STEP_X, A2_CYA_Y, CYAN, LAB_A2[3])
line(4, A2_STEP_X, A2_MAG_Y, MAGENTA, LAB_A2[4])
line(4, A2_STEP_X, A2_GRN_Y, GREEN, LAB_A2[5])
# (b2)
line(5, B2_BRO_X, B2_BRO_Y, BROWN, LAB_A2[0])
line(5, B2_RED_X, B2_RED_Y, RED, LAB_A2[1])
line(5, B2_ORA_X, B2_ORA_Y, ORANGE, LAB_A2[2])
line(5, B2_CYA_X, B2_CYA_Y, CYAN, LAB_A2[3])
line(5, B2_MAG_X, B2_MAG_Y, MAGENTA, LAB_A2[4])
line(5, B2_GRN_X, B2_GRN_Y, GREEN, LAB_A2[5])
# (c2)
line(6, C2_CYA_X, C2_CYA_Y, CYAN, LAB_C2[0])
line(6, C2_MAG_X, C2_MAG_Y, MAGENTA, LAB_C2[1])
line(6, C2_ORA_X, C2_ORA_Y, ORANGE, LAB_C2[2])
line(6, C2_GRN_X, C2_GRN_Y, GREEN, LAB_C2[3])

# ---------------- layout ----------------
BOX = {1: (77, 381, 32, 352), 2: (459, 763, 32, 352), 3: (842, 1147, 31, 352),
       4: (80, 383, 429, 751), 5: (462, 766, 429, 750), 6: (844, 1149, 429, 751)}
XR = {1: [-15, 2025], 2: [-19, 2050], 3: [0, 2059], 4: [0, 1004], 5: [6, 1017], 6: [-5, 1003]}
TICKF = dict(family=FONT, size=21, color="black")


def base_axis():
    return dict(showline=True, linecolor="black", linewidth=2.5, mirror=True, ticks="",
                showgrid=True, gridcolor="#ececec", gridwidth=1, zeroline=False,
                tickfont=TICKF, automargin=False, fixedrange=True)


lay = {}
for i, (l, r, t, b) in BOX.items():
    xa = base_axis()
    xa.update(domain=[l / W, r / W], anchor="y" + sid(i), range=XR[i],
              tickmode="array", tickvals=XT_TOP if i <= 3 else XT_BOT, gridcolor="#f3f3f3",
              ticklabelstandoff=-3 if i <= 3 else -6)
    lay["xaxis" + sid(i)] = xa
    ya = base_axis()
    ya.update(domain=[1 - b / H, 1 - t / H], anchor="x" + sid(i))
    lay["yaxis" + sid(i)] = ya

lay["yaxis"].update(type="log", range=[-0.955, 1.955], tickmode="array", tickvals=[1, 10],
                    ticktext=["10<sup>0</sup>", "10<sup>1</sup>"],
                    minor=dict(tickmode="array", showgrid=True, gridcolor="#f1f1f1",
                               tickvals=[0.2, 0.3, 0.4, 0.5, 0.6, 0.7, 0.8, 0.9, 2, 3, 4, 5, 6, 7, 8, 9,
                                         20, 30, 40, 50, 60, 70, 80]))
lay["yaxis2"].update(range=[0.66, 0.7667], tickmode="array", tickvals=[0.66, 0.68, 0.70, 0.72, 0.74],
                     ticktext=["0.66", "0.68", "0.7", "0.72", "0.74"])
lay["yaxis3"].update(range=[0.70, 0.7526], tickmode="array", tickvals=[0.70, 0.71, 0.72, 0.73, 0.74, 0.75],
                     ticktext=["0.7", "0.71", "0.72", "0.73", "0.74", "0.75"])
lay["yaxis4"].update(type="log", range=[-3.125, -0.839], tickmode="array", tickvals=[0.001, 0.01, 0.1],
                     ticktext=["10<sup>-3</sup>", "10<sup>-2</sup>", "10<sup>-1</sup>"],
                     minor=dict(tickmode="array", showgrid=True, gridcolor="#f1f1f1",
                                tickvals=[0.0008, 0.0009, 0.002, 0.003, 0.004, 0.005, 0.006, 0.007, 0.008, 0.009,
                                          0.02, 0.03, 0.04, 0.05, 0.06, 0.07, 0.08, 0.09, 0.12]))
lay["yaxis5"].update(range=[0.70, 0.8815], tickmode="array", tickvals=[0.70, 0.75, 0.80, 0.85],
                     ticktext=["0.7", "0.75", "0.8", "0.85"])
lay["yaxis6"].update(range=[0.76, 0.8752], tickmode="array", tickvals=[0.76, 0.78, 0.80, 0.82, 0.84, 0.86],
                     ticktext=["0.76", "0.78", "0.8", "0.82", "0.84", "0.86"])

LEG_POS = {1: (91, 48), 2: (474, 44), 3: (854, 47), 4: (93, 443), 5: (477, 443), 6: (857, 446)}
for i, (lx, ly) in LEG_POS.items():
    lay["legend" if i == 1 else "legend%d" % i] = dict(
        x=lx / W, y=1 - ly / H, xanchor="left", yanchor="top", xref="paper", yref="paper",
        bgcolor="white", bordercolor="#555555", borderwidth=1,
        font=dict(family=FONT, size=16, color="black"), itemwidth=30, tracegroupgap=0)

ann = []
PANEL = [("(a1)", 51, 20), ("(b1)", 430, 20), ("(c1)", 815, 20),
         ("(a2)", 52, 420), ("(b2)", 435, 420), ("(c2)", 818, 420)]
for txt, px, py in PANEL:
    ann.append(dict(text=txt, x=px / W, y=1 - py / H, xref="paper", yref="paper", showarrow=False,
                    xanchor="center", yanchor="middle", font=dict(family=FONT, size=32, color="black")))
XTITLE = [(240, 395), (621, 395), (1006, 395), (242, 792), (624, 792), (1009, 792)]
for px, py in XTITLE:
    ann.append(dict(text="Learning round[times]", x=px / W, y=1 - py / H, xref="paper", yref="paper",
                    showarrow=False, xanchor="center", yanchor="middle",
                    font=dict(family=FONT, size=27.5, color="black")))
YTITLE = [("Norm of dual variables", 20, 191), ("Test Accuracy", 406, 195), ("Test Accuracy", 790, 193),
          ("Norm of dual variables", 23, 588), ("Test Accuracy", 410, 590), ("Test Accuracy", 790, 592)]
for txt, px, py in YTITLE:
    ann.append(dict(text=txt, x=px / W, y=1 - py / H, xref="paper", yref="paper", showarrow=False,
                    xanchor="center", yanchor="middle", textangle=-90,
                    font=dict(family=FONT, size=28, color="black")))

fig.update_layout(**lay)
fig.update_layout(width=W, height=H, margin=dict(l=0, r=0, t=0, b=0), autosize=False,
                  paper_bgcolor="white", plot_bgcolor="white", annotations=ann,
                  font=dict(family=FONT, color="black"), hovermode=False)

fig.write_html("out.html", config={"displayModeBar": False},
               post_script="document.body.style.margin='0';document.body.style.overflow='hidden';")
